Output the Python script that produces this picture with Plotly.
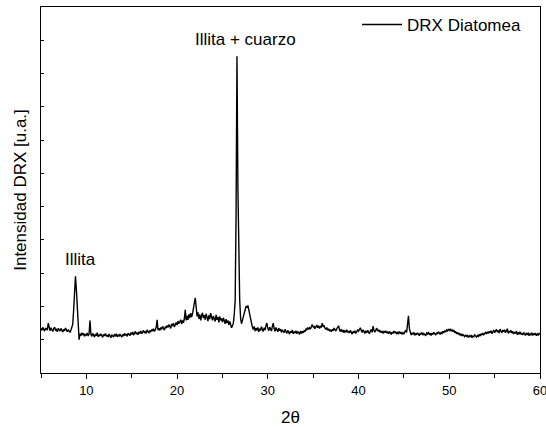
import plotly.graph_objects as go

# XRD scan: 2-theta from 5.0 to 60.0 in 0.1 degree steps
scan_start = 5.0
scan_step = 0.1
intensity = [
    # 5.x
    134, 128, 137, 130, 126, 135, 131, 129, 150, 133,
    # 6.x
    127, 136, 130, 125, 133, 138, 129, 131, 124, 134,
    # 7.x
    130, 126, 134, 129, 123, 131, 127, 135, 128, 124,
    # 8.x
    130, 126, 122, 129, 135, 146, 190, 240, 291, 250,
    # 9.x
    185, 120, 100, 118, 112, 121, 114, 119, 110, 117,
    # 10.x
    113, 120, 111, 118, 158, 116, 110, 119, 113, 108,
    # 11.x
    117, 112, 121, 109, 115, 111, 118, 113, 107, 116,
    # 12.x
    112, 119, 110, 114, 108, 117, 113, 106, 115, 111,
    # 13.x
    108, 115, 112, 118, 109, 114, 110, 117, 112, 108,
    # 14.x
    116, 111, 119, 113, 117, 110, 120, 115, 112, 121,
    # 15.x
    116, 123, 114, 119, 125, 117, 121, 115, 124, 119,
    # 16.x
    126, 118, 123, 128, 120, 125, 119, 130, 124, 121,
    # 17.x
    128, 123, 131, 126, 133, 125, 130, 138, 160, 129,
    # 18.x
    134, 128, 137, 131, 140, 133, 129, 139, 135, 143,
    # 19.x
    137, 146, 139, 134, 148, 141, 150, 138, 145, 152,
    # 20.x
    144, 156, 148, 153, 160, 147, 158, 151, 163, 190,
    # 21.x
    158, 172, 160, 176, 165, 180, 168, 178, 200, 215,
    # 22.x
    226, 200, 170, 182, 163, 176, 158, 172, 181, 165,
    # 23.x
    174, 160, 178, 168, 156, 173, 162, 180, 166, 158,
    # 24.x
    171, 163, 155, 175, 160, 168, 152, 170, 158, 164,
    # 25.x
    153, 166, 157, 148, 162, 150, 158, 145, 155, 142,
    # 26.x
    136, 141, 150, 175, 218, 470, 952, 560, 285, 220,
    # 27.x
    165, 148, 158, 172, 183, 190, 201, 196, 203, 188,
    # 28.x
    172, 160, 149, 138, 131, 140, 126, 135, 128, 137,
    # 29.x
    124, 133, 128, 139, 130, 125, 136, 129, 143, 150,
    # 30.x
    134, 127, 138, 131, 126, 140, 150, 133, 125, 137,
    # 31.x
    129, 124, 135, 127, 132, 122, 130, 126, 121, 131,
    # 32.x
    125, 119, 128, 123, 117, 126, 121, 129, 118, 124,
    # 33.x
    120, 127, 118, 124, 122, 116, 126, 119, 125, 121,
    # 34.x
    128, 124, 133, 130, 137, 131, 136, 132, 139, 146,
    # 35.x
    137, 141, 133, 139, 144, 136, 142, 134, 140, 138,
    # 36.x
    150, 139, 143, 135, 131, 137, 128, 133, 126, 130,
    # 37.x
    124, 131, 127, 135, 129, 126, 133, 138, 142, 130,
    # 38.x
    125, 132, 123, 129, 121, 127, 124, 130, 122, 126,
    # 39.x
    120, 128, 123, 117, 125, 121, 127, 119, 124, 130,
    # 40.x
    126, 133, 136, 128, 122, 130, 124, 119, 127, 121,
    # 41.x
    128, 123, 118, 126, 131, 122, 141, 127, 124, 129,
    # 42.x
    135, 126, 130, 123, 128, 121, 126, 119, 125, 122,
    # 43.x
    127, 120, 124, 118, 125, 121, 116, 123, 119, 126,
    # 44.x
    120, 124, 117, 122, 119, 125, 118, 123, 116, 121,
    # 45.x
    118, 124, 127, 122, 152, 172, 134, 120, 114, 121,
    # 46.x
    116, 122, 113, 119, 115, 121, 117, 112, 120, 116,
    # 47.x
    122, 114, 119, 116, 112, 120, 117, 123, 115, 119,
    # 48.x
    113, 120, 116, 122, 118, 114, 121, 117, 124, 119,
    # 49.x
    116, 122, 119, 125, 121, 127, 123, 129, 126, 132,
    # 50.x
    128, 133, 127, 130, 124, 129, 121, 125, 118, 122,
    # 51.x
    116, 120, 113, 118, 111, 116, 112, 109, 115, 110,
    # 52.x
    113, 107, 112, 108, 114, 106, 111, 109, 115, 110,
    # 53.x
    108, 113, 110, 116, 111, 118, 114, 120, 115, 119,
    # 54.x
    122, 117, 124, 119, 125, 121, 127, 118, 124, 129,
    # 55.x
    121, 126, 131, 123, 128, 120, 132, 125, 122, 129,
    # 56.x
    124, 130, 121, 127, 133, 119, 126, 122, 128, 120,
    # 57.x
    125, 117, 123, 119, 126, 115, 121, 118, 124, 116,
    # 58.x
    120, 114, 122, 117, 113, 121, 116, 119, 112, 118,
    # 59.x
    115, 121, 113, 118, 116, 120, 112, 117, 114, 119,
    # 60.0
    116,
]

series_name = "DRX Diatomea"
x_title = "2θ"
y_title = "Intensidad DRX [u.a.]"
x_ticks = [10, 20, 30, 40, 50, 60]

annot_text = ["Illita", "Illita + cuarzo"]
annot_x = [9.36, 27.5]
annot_y = [342, 1001]

FONT = "Liberation Sans, Arial, sans-serif"

fig = go.Figure()
fig.add_trace(go.Scatter(
    x0=scan_start, dx=scan_step, y=intensity,
    mode="lines", name=series_name,
    line=dict(color="black", width=1.4),
    showlegend=True,
))

for t, ax, ay in zip(annot_text, annot_x, annot_y):
    fig.add_annotation(x=ax, y=ay, text=t, showarrow=False,
                       xanchor="center", yanchor="middle",
                       font=dict(size=17, color="black", family=FONT))

fig.update_layout(
    template="none",
    width=546, height=427,
    margin=dict(l=41, r=6, t=7, b=54),
    paper_bgcolor="white", plot_bgcolor="white",
    font=dict(family=FONT, color="black"),
    showlegend=True,
    legend=dict(x=0.972, y=1, xanchor="right", yanchor="top",
                bgcolor="rgba(0,0,0,0)", borderwidth=0,
                font=dict(size=17, color="black", family=FONT),
                itemwidth=40),
)
fig.update_xaxes(
    range=[5, 60], tickvals=x_ticks, ticktext=[str(v) for v in x_ticks],
    ticks="outside", ticklen=5, tickwidth=1.2, tickcolor="black",
    minor=dict(dtick=5, tick0=5, ticks="outside", ticklen=4, tickwidth=1.2, tickcolor="black"),
    showline=True, linecolor="black", linewidth=1.3, mirror=True,
    showgrid=False, zeroline=False, automargin=False,
    ticklabeloverflow="allow",
    tickfont=dict(size=13, family=FONT),
    title=dict(text=x_title, font=dict(size=17, family=FONT), standoff=20),
)
fig.update_yaxes(
    range=[0, 1100], tick0=0, dtick=100, showticklabels=False,
    ticks="inside", ticklen=3, tickwidth=1, tickcolor="black",
    showline=True, linecolor="black", linewidth=1.3, mirror=True,
    showgrid=False, zeroline=False, automargin=False,
    title=dict(text=y_title, font=dict(size=17, family=FONT), standoff=8),
)

fig.write_html("out.html", config={"displayModeBar": False},
               post_script="document.body.style.margin='0';")
